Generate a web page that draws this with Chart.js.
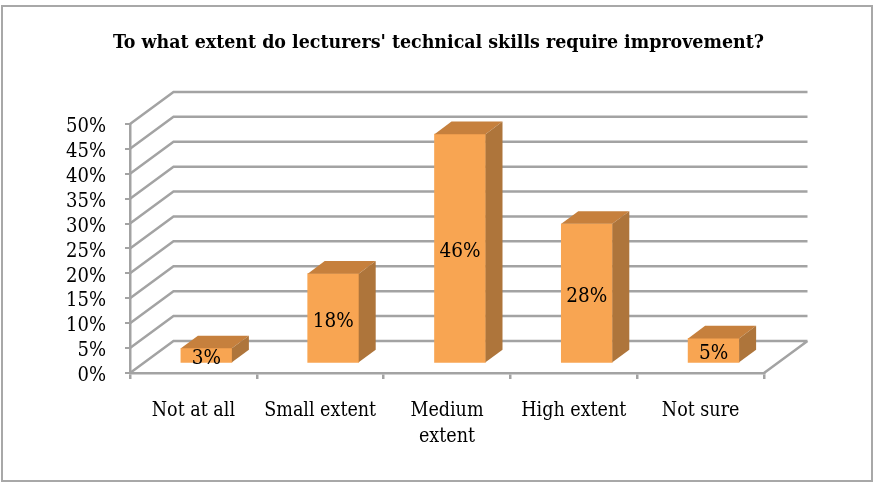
<!DOCTYPE html>
<html>
<head>
<meta charset="utf-8">
<script src="https://cdn.jsdelivr.net/npm/chart.js@4/dist/chart.umd.min.js"></script>
<style>
  html, body { margin: 0; padding: 0; background: #fff; overflow: hidden; }
  #frame { position: absolute; left: 1px; top: 5px; width: 868px; height: 473px; border: 2px solid #a8a8a8; }
  #chart { position: absolute; left: 0; top: 0; }
</style>
</head>
<body>
<div id="frame"></div>
<canvas id="chart" width="874" height="483"></canvas>
<script>
const categories = ['Not at all', 'Small extent', ['Medium', 'extent'], 'High extent', 'Not sure'];
const values = [3, 18, 46, 28, 5];
const yTicks = [0, 5, 10, 15, 20, 25, 30, 35, 40, 45, 50];
const titleText = "To what extent do lecturers' technical skills require improvement?";

const GRID = '#a3a3a3';
const FRONT = '#f8a552', TOP = '#c6803d', SIDE = '#ae753b';
const FONT = "'DejaVu Serif Condensed', 'Liberation Serif', serif";
// oblique depth of the box and of each column, in px
const wall = { dx: 43.5, dy: -32 };
const bar = { dx: 17, dy: -12.6, shiftX: 13, shiftY: -9.7 };

// the fake 3D: walls behind the columns, sides and labels on top of them
const box3d = {
  id: 'box3d',
  beforeDatasetsDraw(chart) {
    const { ctx, scales: { y }, chartArea: a } = chart;
    ctx.save();
    ctx.strokeStyle = GRID;
    ctx.lineWidth = 2.5;
    ctx.beginPath();
    yTicks.forEach((t) => {
      const py = y.getPixelForValue(t);
      ctx.moveTo(a.left, py);
      ctx.lineTo(a.left + wall.dx, py + wall.dy);
      ctx.lineTo(a.right + wall.dx, py + wall.dy);
    });
    ctx.moveTo(a.right, a.bottom);
    ctx.lineTo(a.right + wall.dx, a.bottom + wall.dy);
    ctx.stroke();
    ctx.restore();
  },
  beforeDatasetDraw(chart) {
    chart.ctx.save();
    chart.ctx.translate(bar.shiftX, bar.shiftY);
  },
  afterDatasetDraw(chart, args) {
    const ctx = chart.ctx;
    args.meta.data.forEach((el, i) => {
      const l = el.x - el.width / 2, r = el.x + el.width / 2;
      ctx.fillStyle = TOP;
      ctx.beginPath();
      ctx.moveTo(l, el.y);
      ctx.lineTo(l + bar.dx, el.y + bar.dy);
      ctx.lineTo(r + bar.dx, el.y + bar.dy);
      ctx.lineTo(r, el.y);
      ctx.fill();
      ctx.fillStyle = SIDE;
      ctx.beginPath();
      ctx.moveTo(r, el.y);
      ctx.lineTo(r + bar.dx, el.y + bar.dy);
      ctx.lineTo(r + bar.dx, el.base + bar.dy);
      ctx.lineTo(r, el.base);
      ctx.fill();
      ctx.fillStyle = '#000';
      ctx.font = '20.5px ' + FONT;
      ctx.textAlign = 'center';
      ctx.textBaseline = 'middle';
      ctx.fillText(values[i] + '%', el.x, (el.y + el.base) / 2 + 3.5);
    });
    ctx.restore();
  },
};

new Chart(document.getElementById('chart'), {
  type: 'bar',
  data: {
    labels: categories,
    datasets: [{ data: values, backgroundColor: FRONT, barThickness: 51 }],
  },
  options: {
    responsive: false,
    animation: false,
    layout: { padding: { left: 0, right: 110, top: 0, bottom: 0 } },
    plugins: {
      legend: { display: false },
      tooltip: { enabled: false },
      title: {
        display: true,
        text: titleText,
        align: 'end',
        color: '#000',
        font: { family: FONT, size: 19.4, weight: 'bold', lineHeight: 1.3 },
        padding: { top: 30, bottom: 68.7 },
      },
    },
    scales: {
      x: {
        afterFit: (s) => { s.height = 110; },
        border: { color: GRID, width: 2.5 },
        grid: { drawOnChartArea: false, color: GRID, lineWidth: 2.5, tickLength: 6 },
        ticks: {
          color: '#000', padding: 19, maxRotation: 0, autoSkip: false,
          font: { family: FONT, size: 19.5, lineHeight: 1.33 },
        },
      },
      y: {
        min: 0, max: 50,
        afterFit: (s) => { s.width = 130; },
        afterBuildTicks: (s) => { s.ticks = yTicks.map((value) => ({ value })); },
        border: { color: GRID, width: 2.5 },
        grid: { drawOnChartArea: false, color: GRID, lineWidth: 2, tickLength: 5 },
        ticks: {
          color: '#000', padding: 19, autoSkip: false, labelOffset: 3,
          font: { family: FONT, size: 20 },
          callback: (v) => v + '%',
        },
      },
    },
  },
  plugins: [box3d],
});
</script>
</body>
</html>
